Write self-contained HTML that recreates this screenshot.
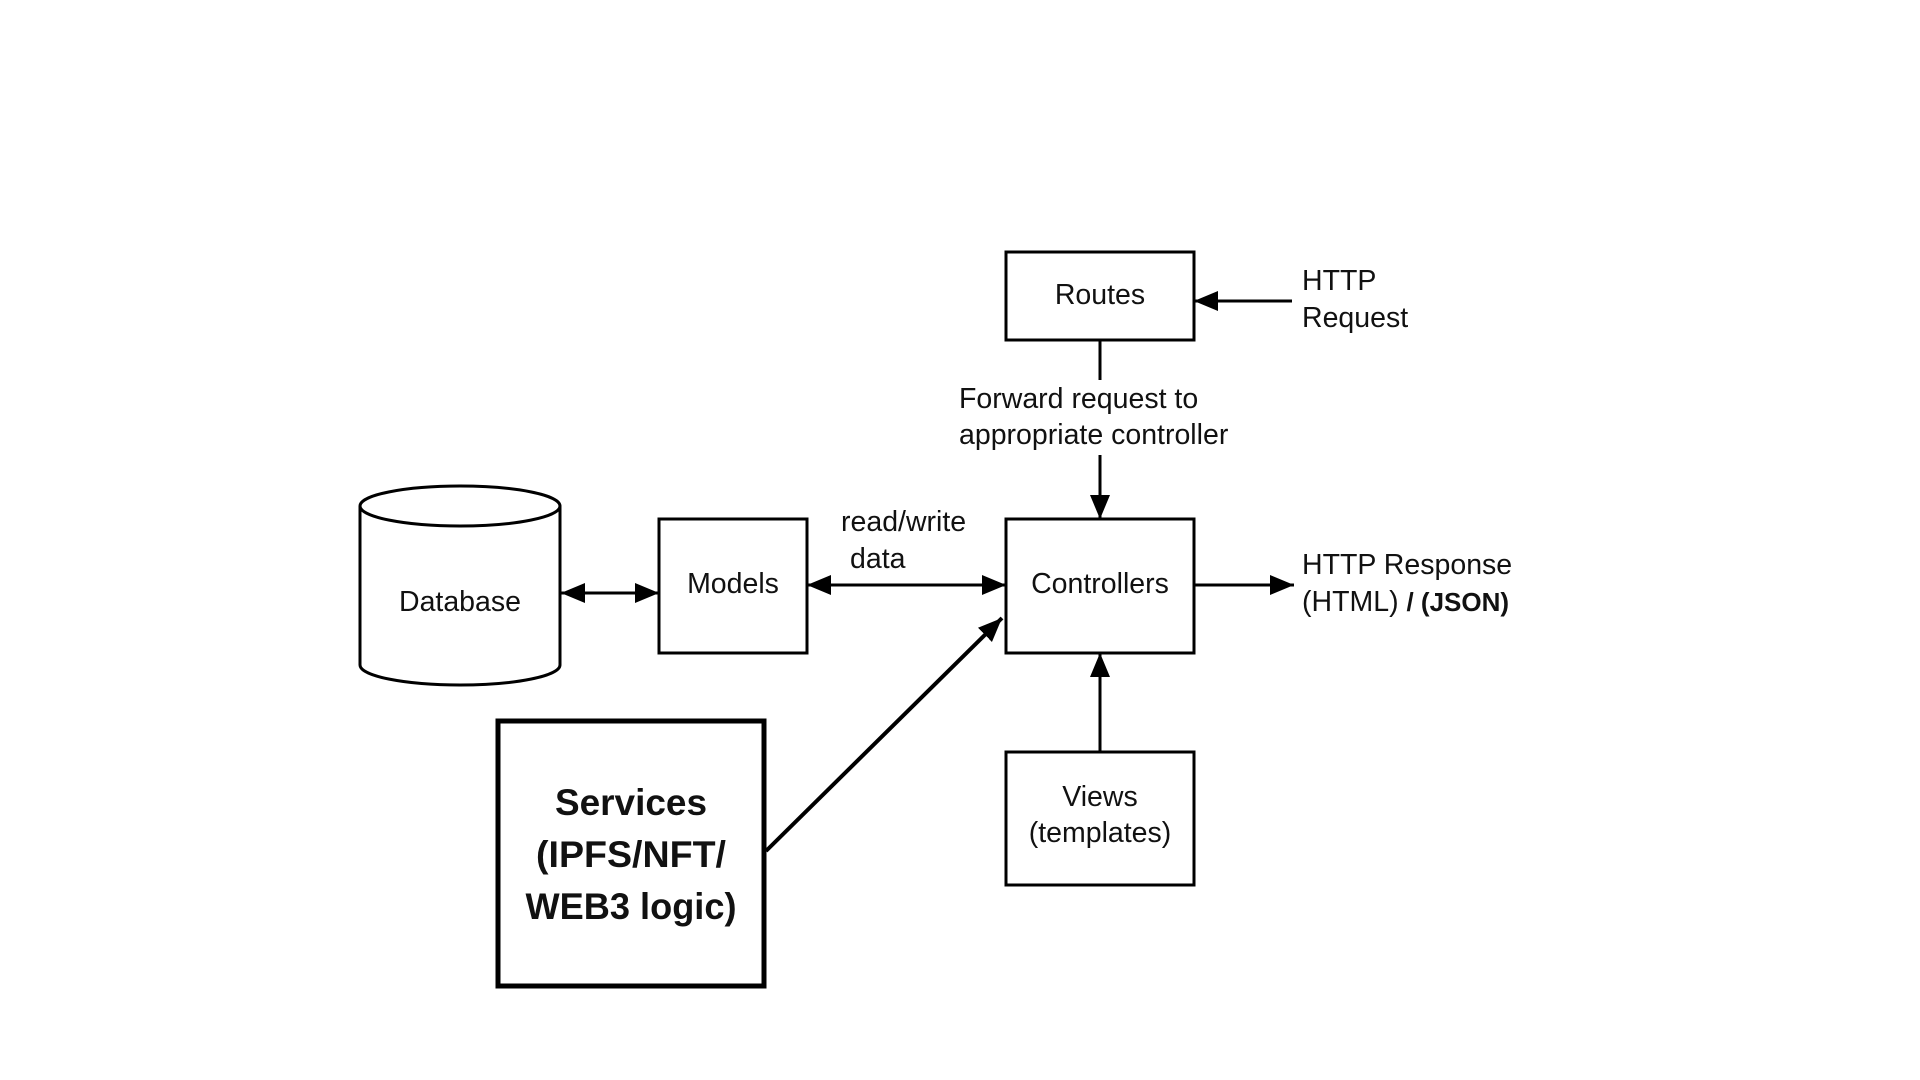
<!DOCTYPE html>
<html><head><meta charset="utf-8"><style>
body{margin:0;width:1920px;height:1080px;background:#fff;overflow:hidden}
svg{position:absolute;left:0;top:0}
text{font-family:"Liberation Sans",Arial,sans-serif;font-size:28.5px;fill:#111}
.b{font-family:"Liberation Sans",sans-serif;font-weight:bold;font-size:37px}
</style></head><body>
<svg width="1920" height="1080" viewBox="0 0 1920 1080">
<defs>
<marker id="ah" markerWidth="24" markerHeight="20" refX="24" refY="10" orient="auto-start-reverse" markerUnits="userSpaceOnUse"><path d="M0,0L24,10L0,20z" fill="#000"/></marker></defs>
<g fill="#fff" stroke="#000" stroke-width="3">
<rect x="1006" y="252" width="188" height="88"/>
<rect x="1006" y="519" width="188" height="134"/>
<rect x="1006" y="752" width="188" height="133"/>
<rect x="659" y="519" width="148" height="134"/>
<path d="M360,506 V665 A100,20 0 0 0 560,665 V506"/>
<ellipse cx="460" cy="506" rx="100" ry="20"/>
<rect x="498" y="721" width="266" height="265" stroke-width="5"/>
</g>
<g stroke="#000" stroke-width="3" fill="none">
<line x1="1292" y1="301" x2="1194" y2="301" marker-end="url(#ah)"/>
<line x1="1100" y1="340" x2="1100" y2="380"/>
<line x1="1100" y1="455" x2="1100" y2="519" marker-end="url(#ah)"/>
<line x1="807" y1="585" x2="1006" y2="585" marker-start="url(#ah)" marker-end="url(#ah)"/>
<line x1="561" y1="593" x2="659" y2="593" marker-start="url(#ah)" marker-end="url(#ah)"/>
<line x1="1194" y1="585" x2="1294" y2="585" marker-end="url(#ah)"/>
<line x1="1100" y1="752" x2="1100" y2="653" marker-end="url(#ah)"/>
<line x1="766" y1="851" x2="1002" y2="618" stroke-width="4" marker-end="url(#ah)"/>
</g>
<text x="1100" y="304" text-anchor="middle">Routes</text>
<text x="1100" y="593" text-anchor="middle">Controllers</text>
<text x="1100" y="806" text-anchor="middle">Views</text>
<text x="1100" y="842" text-anchor="middle">(templates)</text>
<text x="733" y="593" text-anchor="middle">Models</text>
<text x="460" y="611" text-anchor="middle">Database</text>
<text x="1302" y="290">HTTP</text>
<text x="1302" y="327">Request</text>
<text x="959" y="408">Forward request to</text>
<text x="959" y="444">appropriate controller</text>
<text x="841" y="531">read/write</text>
<text x="850" y="568">data</text>
<text x="1302" y="574">HTTP Response</text>
<text x="1302" y="611">(HTML)  <tspan font-weight="bold" font-size="26">/ (JSON)</tspan></text>
<text class="b" x="631" y="815" text-anchor="middle" textLength="152" lengthAdjust="spacingAndGlyphs">Services</text>
<text class="b" x="631" y="867" text-anchor="middle" textLength="190" lengthAdjust="spacingAndGlyphs">(IPFS/NFT/</text>
<text class="b" x="631" y="919" text-anchor="middle" textLength="211" lengthAdjust="spacingAndGlyphs">WEB3 logic)</text>
</svg>
</body></html>
